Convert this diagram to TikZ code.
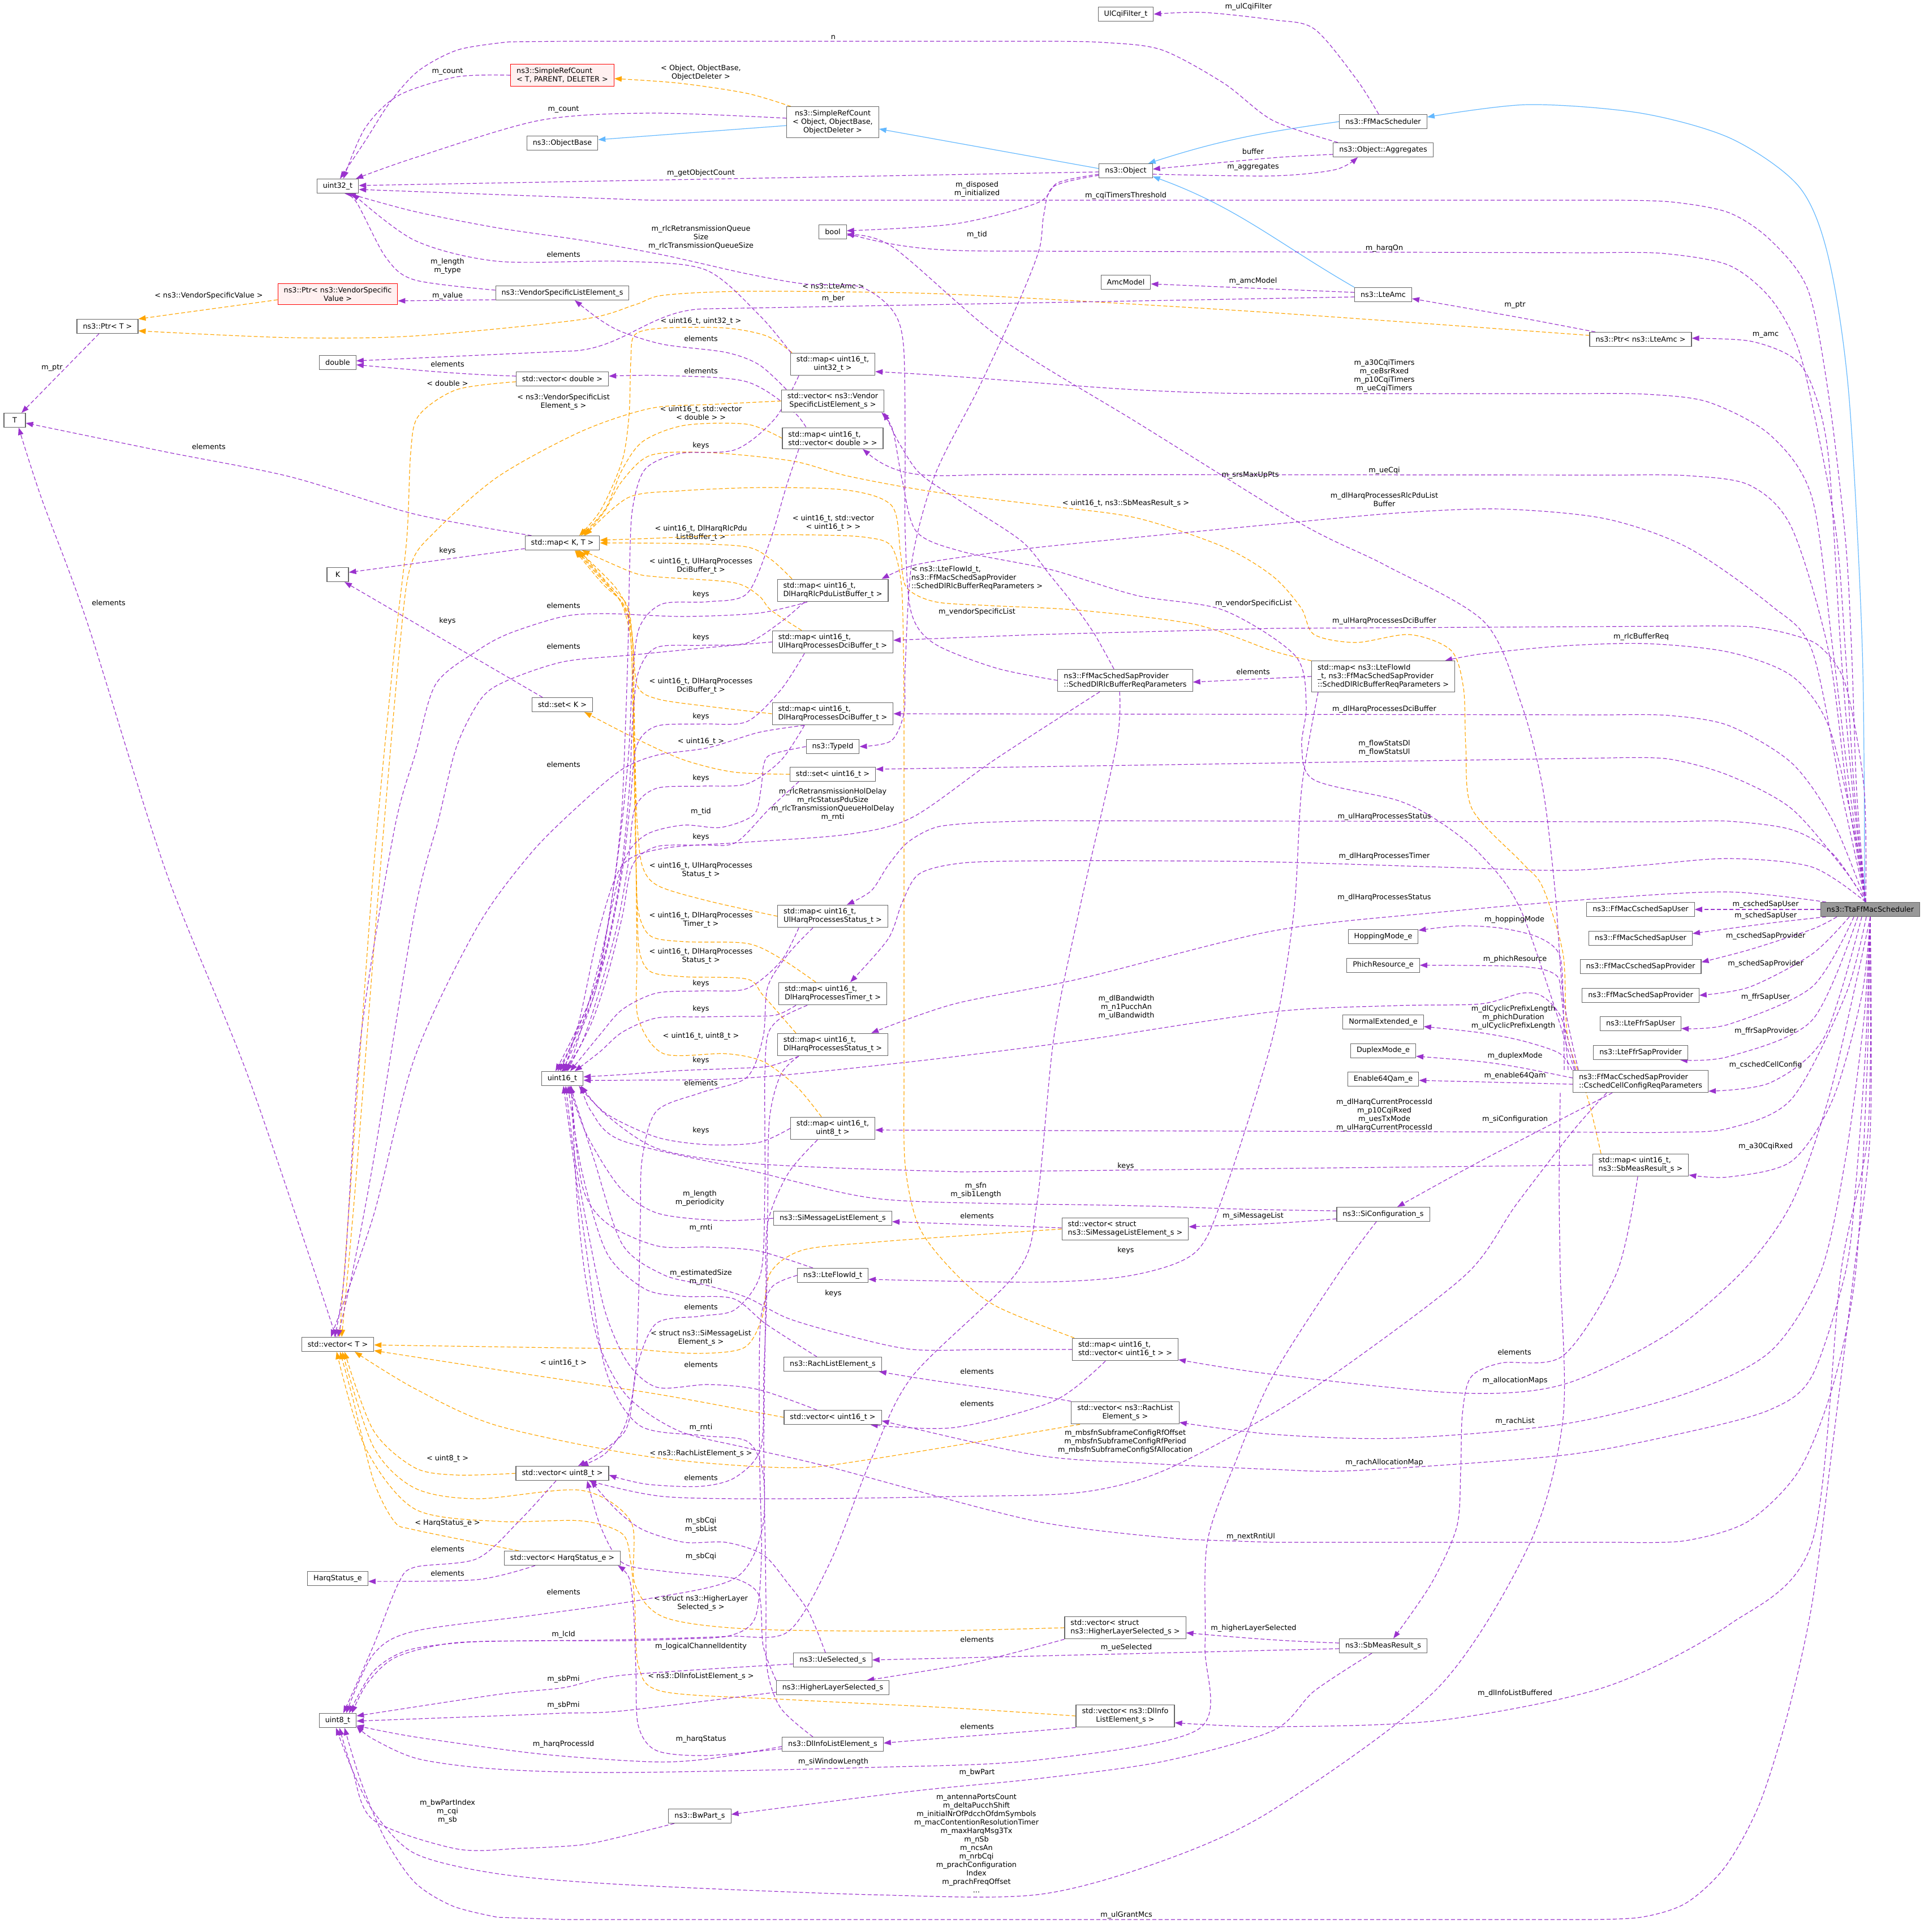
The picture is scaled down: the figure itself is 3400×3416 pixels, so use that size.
\documentclass[tikz,border=0pt]{standalone}
\usepackage{fontspec}
\setmainfont{DejaVu Sans}
\usepackage{tikz}
\usetikzlibrary{positioning, arrows.meta, backgrounds}

\definecolor{edgepurple}{HTML}{9A32CD}
\definecolor{edgeorange}{HTML}{FFA500}
\definecolor{edgeblue}{HTML}{63B8FF}
\definecolor{boxgray}{HTML}{666666}
\definecolor{mainfill}{HTML}{999999}
\definecolor{redfill}{HTML}{FFF0F0}

\newcommand{\dxfont}{\fontsize{12.8}{15}\selectfont}

\tikzset{
  cls/.style={draw=boxgray, fill=white, line width=1.1pt, font=\dxfont, align=center,
    inner xsep=10.5pt, inner ysep=6pt, minimum width=38pt, minimum height=25pt},
  clsl/.style={cls, align=left},
  maincls/.style={cls, fill=mainfill},
  redcls/.style={cls, draw=red, fill=redfill},
  mem/.style={draw=edgepurple, line width=1.2pt, dash pattern=on 7pt off 4pt,
    -{Triangle[length=13pt, width=9.5pt]}},
  tpl/.style={mem, draw=edgeorange},
  inh/.style={draw=edgeblue, line width=1.2pt, -{Triangle[length=13pt, width=9.5pt]}},
  lab/.style={font=\dxfont, align=center, inner sep=0pt, text=black}
}

\begin{document}
\begin{tikzpicture}[x=1pt, y=1pt]
\useasboundingbox (0,0) rectangle (3400,-3416);

% classes
\node[maincls] (n_tta) at (3306,-1608) {ns3::TtaFfMacScheduler};
\node[cls] (n_ffmac) at (2445,-215) {ns3::FfMacScheduler};
\node[cls] (n_ulcqi) at (1990,-25) {UlCqiFilter\_t};
\node[cls] (n_obj) at (1990,-302) {ns3::Object};
\node[cls] (n_aggr) at (2445,-265) {ns3::Object::Aggregates};
\node[cls] (n_srcobj) at (1472,-216) {ns3::SimpleRefCount\\< Object, ObjectBase,\\ObjectDeleter >};
\node[redcls, align=left] (n_srct) at (994,-133) {ns3::SimpleRefCount\\< T, PARENT, DELETER >};
\node[cls] (n_objbase) at (994,-253) {ns3::ObjectBase};
\node[cls] (n_u32) at (597,-329) {uint32\_t};
\node[cls] (n_bool) at (1472,-410) {bool};
\node[cls] (n_amcmodel) at (1990,-499) {AmcModel};
\node[cls] (n_lteamc) at (2445,-521) {ns3::LteAmc};
\node[cls] (n_ptramc) at (2900,-600) {ns3::Ptr< ns3::LteAmc >};
\node[redcls] (n_ptrvsv) at (597,-520) {ns3::Ptr< ns3::VendorSpecific\\Value >};
\node[cls] (n_vsle) at (994,-518) {ns3::VendorSpecificListElement\_s};
\node[cls] (n_ptrt) at (190,-577) {ns3::Ptr< T >};
\node[cls] (n_dbl) at (597,-641) {double};
\node[cls] (n_vecdbl) at (994,-670) {std::vector< double >};
\node[cls] (n_t) at (26,-743) {T};
\node[cls] (n_mapkt) at (994,-960) {std::map< K, T >};
\node[cls] (n_k) at (597,-1016) {K};
\node[cls] (n_setk) at (994,-1246) {std::set< K >};
\node[cls] (n_u16) at (994,-1907) {uint16\_t};
\node[cls] (n_vect) at (597,-2377) {std::vector< T >};
\node[cls] (n_vecu8) at (994,-2605) {std::vector< uint8\_t >};
\node[cls] (n_vechs) at (994,-2755) {std::vector< HarqStatus\_e >};
\node[cls] (n_hs) at (597,-2791) {HarqStatus\_e};
\node[cls] (n_u8) at (597,-3042) {uint8\_t};
\node[cls] (n_mapu32) at (1472,-644) {std::map< uint16\_t,\\uint32\_t >};
\node[cls] (n_vecvsle) at (1472,-709) {std::vector< ns3::Vendor\\SpecificListElement\_s >};
\node[clsl] (n_mapvecdbl) at (1472,-775) {std::map< uint16\_t,\\ std::vector< double > >};
\node[clsl] (n_maprlc) at (1472,-1044) {std::map< uint16\_t,\\ DlHarqRlcPduListBuffer\_t >};
\node[clsl] (n_mapuldci) at (1472,-1135) {std::map< uint16\_t,\\ UlHarqProcessesDciBuffer\_t >};
\node[clsl] (n_mapdldci) at (1472,-1262) {std::map< uint16\_t,\\ DlHarqProcessesDciBuffer\_t >};
\node[cls] (n_typeid) at (1472,-1320) {ns3::TypeId};
\node[cls] (n_setu16) at (1472,-1369) {std::set< uint16\_t >};
\node[clsl] (n_mapulst) at (1472,-1620) {std::map< uint16\_t,\\ UlHarqProcessesStatus\_t >};
\node[clsl] (n_mapdltm) at (1472,-1757) {std::map< uint16\_t,\\ DlHarqProcessesTimer\_t >};
\node[clsl] (n_mapdlst) at (1472,-1847) {std::map< uint16\_t,\\ DlHarqProcessesStatus\_t >};
\node[cls] (n_mapu8) at (1472,-1995) {std::map< uint16\_t,\\uint8\_t >};
\node[cls] (n_simle) at (1472,-2154) {ns3::SiMessageListElement\_s};
\node[cls] (n_flowid) at (1472,-2255) {ns3::LteFlowId\_t};
\node[cls] (n_rachle) at (1472,-2412) {ns3::RachListElement\_s};
\node[cls] (n_vecu16) at (1472,-2506) {std::vector< uint16\_t >};
\node[cls] (n_uesel) at (1472,-2935) {ns3::UeSelected\_s};
\node[cls] (n_hlsel) at (1472,-2984) {ns3::HigherLayerSelected\_s};
\node[cls] (n_dlinfo) at (1472,-3084) {ns3::DlInfoListElement\_s};
\node[cls] (n_bwpart) at (1237,-3211) {ns3::BwPart\_s};
\node[clsl] (n_rlcreq) at (1989,-1203) {ns3::FfMacSchedSapProvider\\::SchedDlRlcBufferReqParameters};
\node[clsl] (n_vecsimle) at (1989,-2173) {std::vector< struct\\ ns3::SiMessageListElement\_s >};
\node[clsl] (n_mapvecu16) at (1989,-2386) {std::map< uint16\_t,\\ std::vector< uint16\_t > >};
\node[cls] (n_vecrach) at (1989,-2498) {std::vector< ns3::RachList\\Element\_s >};
\node[clsl] (n_vechl) at (1989,-2878) {std::vector< struct\\ ns3::HigherLayerSelected\_s >};
\node[cls] (n_vecdlinfo) at (1989,-3034) {std::vector< ns3::DlInfo\\ListElement\_s >};
\node[clsl] (n_mapflow) at (2445,-1196) {std::map< ns3::LteFlowId\\\_t, ns3::FfMacSchedSapProvider\\::SchedDlRlcBufferReqParameters >};
\node[cls] (n_hop) at (2445,-1656) {HoppingMode\_e};
\node[cls, below=24.5pt of n_hop] (n_phich) {PhichResource\_e};
\node[cls] (n_normext) at (2445,-1807) {NormalExtended\_e};
\node[cls, below=24.5pt of n_normext] (n_duplex) {DuplexMode\_e};
\node[cls, below=24.5pt of n_duplex] (n_qam) {Enable64Qam\_e};
\node[cls] (n_siconf) at (2445,-2147) {ns3::SiConfiguration\_s};
\node[cls] (n_sbmeas) at (2445,-2910) {ns3::SbMeasResult\_s};
\node[cls] (n_cschuser) at (2900,-1608) {ns3::FfMacCschedSapUser};
\node[cls, below=24.5pt of n_cschuser] (n_schuser) {ns3::FfMacSchedSapUser};
\node[cls, below=24.5pt of n_schuser] (n_cschprov) {ns3::FfMacCschedSapProvider};
\node[cls, below=24.5pt of n_cschprov] (n_schprov) {ns3::FfMacSchedSapProvider};
\node[cls, below=24.5pt of n_schprov] (n_ffruser) {ns3::LteFfrSapUser};
\node[cls, below=24.5pt of n_ffruser] (n_ffrprov) {ns3::LteFfrSapProvider};
\node[clsl] (n_cellcfg) at (2900,-1912) {ns3::FfMacCschedSapProvider\\::CschedCellConfigReqParameters};
\node[clsl] (n_mapsb) at (2900,-2060) {std::map< uint16\_t,\\ ns3::SbMeasResult\_s >};

\begin{scope}[on background layer]
% inheritance
\draw[inh] plot[smooth] coordinates {([xshift=-10]n_tta.north) (3292,-1150) (3268,-696) (3232,-455) (3180,-330) (3060,-245) (2900,-200) (2700,-185) ([yshift=8]n_ffmac.east)};
\draw[inh] (n_ffmac.west) to[out=188,in=18] ([xshift=-8]n_obj.north east);
\draw[inh] (n_lteamc.north west) to[out=150,in=-20] ([yshift=3]n_obj.south east);
\draw[inh] ([yshift=4]n_obj.west) -- ([yshift=-12]n_srcobj.east);
\draw[inh] ([yshift=-6]n_srcobj.west) -- ([yshift=6]n_objbase.east);

% templates
\draw[tpl] plot[smooth] coordinates {([xshift=8]n_srcobj.north west) (1320,-165) (1200,-147) ([yshift=-6]n_srct.east)} node[lab, at={(1239,-128)}] {< Object, ObjectBase,\\ObjectDeleter >};
\draw[tpl] ([yshift=-10]n_ptrvsv.west) to[out=188,in=8] ([yshift=13]n_ptrt.east) node[lab, at={(369,-523)}] {< ns3::VendorSpecificValue >};
\draw[tpl] plot[smooth] coordinates {([yshift=7]n_ptramc.west) (2250,-553) (1833,-528) (1613,-518) (1320,-515) (1173,-522) (1122,-539) (1027,-565) (733,-594) (513,-597) ([yshift=-8]n_ptrt.east)} node[lab, at={(1473,-506)}] {< ns3::LteAmc >};
\draw[tpl] plot[smooth] coordinates {([yshift=-5]n_vecdbl.west) (807,-689) (740,-735) (726,-800) (719,-953) (697,-1150) (660,-1540) (623,-2053) ([xshift=3]n_vect.north)} node[lab, at={(791,-678)}] {< double >};
\draw[tpl] plot[smooth] coordinates {(n_vecvsle.west) (1260,-715) (1150,-722) (1027,-763) (880,-843) (770,-939) (726,-1000) (706,-1150) (667,-1600) (628,-2100) ([xshift=7]n_vect.north)} node[lab, at={(996,-711)}] {< ns3::VendorSpecificList\\Element\_s >};
\draw[tpl] plot[smooth] coordinates {(n_setu16.west) (1296,-1365) (1207,-1343) (1118,-1303) ([xshift=-15]n_setk.south east)} node[lab, at={(1239,-1311)}] {< uint16\_t >};
\draw[tpl] plot[smooth] coordinates {([xshift=-72]n_mapu32.north) (1355,-594) (1283,-580) (1173,-580) (1122,-592) (1115,-640) (1112,-733) (1100,-814) (1063,-900) ([xshift=30]n_mapkt.north)} node[lab, at={(1239,-568)}] {< uint16\_t, uint32\_t >};
\draw[tpl] plot[smooth] coordinates {(n_mapvecdbl.west) (1320,-750) (1210,-752) (1137,-780) (1100,-830) (1070,-900) ([xshift=33]n_mapkt.north)} node[lab, at={(1239,-730)}] {< uint16\_t, std::vector\\< double > >};
\draw[tpl] plot[smooth] coordinates {([xshift=-72]n_maprlc.north) (1364,-990) (1320,-967) (1210,-961) (n_mapkt.east)} node[lab, at={(1239,-943)}] {< uint16\_t, DlHarqRlcPdu\\ListBuffer\_t >};
\draw[tpl] plot[smooth] coordinates {([xshift=-55]n_mapuldci.north) (1363,-1079) (1341,-1053) (1296,-1030) (1163,-1020) (1118,-1012) ([xshift=35]n_mapkt.south)} node[lab, at={(1239,-1001)}] {< uint16\_t, UlHarqProcesses\\DciBuffer\_t >};
\draw[tpl] plot[smooth] coordinates {(n_mapdldci.west) (1252,-1249) (1163,-1236) (1127,-1213) (1118,-1129) (1109,-1071) (1073,-1030) ([xshift=30]n_mapkt.south)} node[lab, at={(1239,-1213)}] {< uint16\_t, DlHarqProcesses\\DciBuffer\_t >};
\draw[tpl] plot[smooth] coordinates {(n_mapulst.west) (1252,-1593) (1163,-1566) (1135,-1530) (1126,-1450) (1123,-1350) (1121,-1250) (1119,-1150) (1110,-1080) (1085,-1035) ([xshift=28]n_mapkt.south)} node[lab, at={(1239,-1539)}] {< uint16\_t, UlHarqProcesses\\Status\_t >};
\draw[tpl] plot[smooth] coordinates {([xshift=-30]n_mapdltm.north) (1379,-1694) (1320,-1668) (1210,-1665) (1150,-1655) (1128,-1610) (1124,-1520) (1122,-1420) (1120,-1320) (1118,-1220) (1115,-1130) (1100,-1070) (1075,-1035) ([xshift=26]n_mapkt.south)} node[lab, at={(1239,-1627)}] {< uint16\_t, DlHarqProcesses\\Timer\_t >};
\draw[tpl] plot[smooth] coordinates {([xshift=-65]n_mapdlst.north) (1349,-1760) (1320,-1731) (1210,-1727) (1150,-1718) (1130,-1680) (1126,-1590) (1124,-1490) (1122,-1390) (1120,-1290) (1118,-1190) (1112,-1100) (1095,-1060) (1068,-1030) ([xshift=24]n_mapkt.south)} node[lab, at={(1239,-1691)}] {< uint16\_t, DlHarqProcesses\\Status\_t >};
\draw[tpl] plot[smooth] coordinates {([xshift=-20]n_mapu8.north) (1408,-1921) (1349,-1877) (1283,-1863) (1173,-1863) (1128,-1800) (1126,-1700) (1125,-1600) (1124,-1500) (1123,-1400) (1121,-1300) (1120,-1200) (1117,-1120) (1102,-1068) (1065,-1032) ([xshift=22]n_mapkt.south)} node[lab, at={(1239,-1832)}] {< uint16\_t, uint8\_t >};
\draw[tpl] plot[smooth] coordinates {([xshift=-90]n_mapvecu16.north) (1760,-2309) (1687,-2250) (1625,-2170) (1600,-2060) (1598,-1900) (1598,-1750) (1598,-1600) (1598,-1450) (1598,-1300) (1597,-1150) (1593,-1030) (1575,-965) (1530,-950) (1450,-946) (1300,-946) (1150,-952) ([yshift=5]n_mapkt.east)} node[lab, at={(1473,-925)}] {< uint16\_t, std::vector\\< uint16\_t > >};
\draw[tpl] plot[smooth] coordinates {([xshift=-70]n_mapsb.north) (2807,-1943) (2771,-1833) (2763,-1687) (2727,-1569) (2690,-1525) (2602,-1430) (2591,-1320) (2587,-1217) (2565,-1150) (2492,-1122) (2397,-1136) (2323,-1122) (2300,-1075) (2250,-1019) (2163,-967) (2010,-916) (1857,-895) (1653,-870) (1500,-842) (1400,-815) (1250,-800) (1150,-805) (1100,-850) (1068,-905) ([xshift=38]n_mapkt.north)} node[lab, at={(1990,-890)}] {< uint16\_t, ns3::SbMeasResult\_s >};
\draw[tpl] plot[smooth] coordinates {(n_mapflow.north west) (2250,-1151) (2112,-1104) (1908,-1079) (1755,-1071) (1653,-1064) (1602,-1038) (1592,-980) (1577,-895) (1500,-867) (1350,-862) (1200,-868) (1110,-880) ([xshift=40]n_mapkt.north)} node[lab, align=left, at={(1727,-1022)}] {< ns3::LteFlowId\_t,\\ns3::FfMacSchedSapProvider\\::SchedDlRlcBufferReqParameters >};
\draw[tpl] plot[smooth] coordinates {(n_vecu16.west) (1300,-2490) (1150,-2463) (900,-2425) ([yshift=-11]n_vect.east)} node[lab, at={(996,-2410)}] {< uint16\_t >};
\draw[tpl] plot[smooth] coordinates {(n_vecsimle.west) (1700,-2185) (1550,-2196) (1420,-2210) (1362,-2250) (1347,-2330) (1315,-2383) (1230,-2393) (1120,-2385)} -- ([yshift=-1]n_vect.east) node[lab, at={(1239,-2366)}] {< struct ns3::SiMessageList\\Element\_s >};
\draw[tpl] plot[smooth] coordinates {(n_vecu8.west) (807,-2608) (733,-2595) (660,-2529) ([xshift=12]n_vect.south)} node[lab, at={(791,-2579)}] {< uint8\_t >};
\draw[tpl] plot[smooth] coordinates {([xshift=-77]n_vechs.north) (733,-2705) (697,-2690) (660,-2617) (623,-2470) ([xshift=4]n_vect.south)} node[lab, at={(791,-2693)}] {< HarqStatus\_e >};
\draw[tpl] plot[smooth] coordinates {([xshift=-80]n_vecrach.south) (1540,-2580) (1393,-2595) (1150,-2576) (880,-2521) (733,-2455) ([xshift=30]n_vect.south)} node[lab, at={(1239,-2570)}] {< ns3::RachListElement\_s >};
\draw[tpl] plot[smooth] coordinates {(n_vechl.west) (1613,-2884) (1320,-2880) (1173,-2859) (1122,-2800) (1115,-2690) (1027,-2635) (843,-2650) (733,-2631) (660,-2558) ([xshift=8]n_vect.south)} node[lab, at={(1239,-2835)}] {< struct ns3::HigherLayer\\Selected\_s >};
\draw[tpl] plot[smooth] coordinates {(n_vecdlinfo.west) (1687,-3020) (1393,-3005) (1173,-2991) (1129,-2947) (1122,-2837) (1115,-2763) (1100,-2712) (1027,-2689) (880,-2690) (733,-2668) (645,-2558) ([xshift=-2]n_vect.south)} node[lab, at={(1239,-2964)}] {< ns3::DlInfoListElement\_s >};

% members of ns3::TtaFfMacScheduler
\draw[mem] plot[smooth] coordinates {([xshift=-8]n_tta.north) (3282,-1400) (3273,-1150) (3262,-953) (3232,-696) (3196,-513) (3130,-425) (3056,-376) (2954,-357) (2850,-354)} -- (1150,-354) -- ([yshift=-6]n_u32.east) node[lab, at={(1990,-346)}] {m\_cqiTimersThreshold};
\draw[mem] plot[smooth] coordinates {([xshift=-8]n_tta.north) (3278,-1400) (3262,-1150) (3247,-953) (3218,-787) (3180,-620) (3130,-528) (3056,-469) (2939,-448) (2820,-447)} -- (1806,-444) to[out=180,in=-15] ([yshift=-3]n_bool.east) node[lab, at={(2447,-439)}] {m\_harqOn};
\draw[mem] plot[smooth] coordinates {([xshift=-8]n_tta.north) (3275,-1400) (3254,-1150) (3232,-807) (3203,-682) (3167,-631) (3093,-603) ([yshift=2]n_ptramc.east)} node[lab, at={(3121,-592)}] {m\_amc};
\draw[mem] plot[smooth] coordinates {([xshift=-8]n_tta.north) (3270,-1400) (3240,-1150) (3203,-880) (3130,-770) (3020,-711) (2910,-697) (2800,-696)} -- (2250,-696) to[out=180,in=-3] ([yshift=-13]n_mapu32.east) node[lab, at={(2447,-665)}] {m\_a30CqiTimers\\m\_ceBsrRxed\\m\_p10CqiTimers\\m\_ueCqiTimers};
\draw[mem] plot[smooth] coordinates {([xshift=-8]n_tta.north) (3265,-1400) (3232,-1150) (3167,-933) (3093,-858) (2983,-841) (2870,-840)} -- (1760,-839) to[out=180,in=-40] ([xshift=53]n_mapvecdbl.south) node[lab, at={(2447,-832)}] {m\_ueCqi};
\draw[mem] plot[smooth] coordinates {([xshift=-8]n_tta.north) (3255,-1400) (3203,-1150) (3130,-1070) (2983,-968) (2837,-917) (2653,-900) (2470,-907) (2250,-927) (2040,-947) (1833,-968) (1700,-985) (1613,-1000) ([xshift=-12]n_maprlc.north east)} node[lab, at={(2447,-883)}] {m\_dlHarqProcessesRlcPduList\\Buffer};
\draw[mem] plot[smooth] coordinates {([xshift=-8]n_tta.north) (3295,-1393) (3262,-1210) (3218,-1144) (3167,-1122) (3093,-1108) (2990,-1107)} -- (2250,-1111) -- (1833,-1122) -- ([yshift=3]n_mapuldci.east) node[lab, at={(2447,-1098)}] {m\_ulHarqProcessesDciBuffer};
\draw[mem] plot[smooth] coordinates {([xshift=-8]n_tta.north) (3277,-1467) (3232,-1283) (3167,-1195) (3056,-1153) (2910,-1138) (2763,-1142) (2620,-1156) ([xshift=-18]n_mapflow.north east)} node[lab, at={(2901,-1126)}] {m\_rlcBufferReq};
\draw[mem] plot[smooth] coordinates {([xshift=-8]n_tta.north) (3240,-1452) (3167,-1349) (3056,-1283) (2950,-1265) (2850,-1264)} -- (n_mapdldci.east) node[lab, at={(2447,-1254)}] {m\_dlHarqProcessesDciBuffer};
\draw[mem] plot[smooth] coordinates {([xshift=-8]n_tta.north) (3262,-1540) (3167,-1430) (3056,-1371) (2950,-1342) (2850,-1340)} -- ([yshift=9]n_setu16.east) node[lab, at={(2447,-1323)}] {m\_flowStatsDl\\m\_flowStatsUl};
\draw[mem] plot[smooth] coordinates {([xshift=-8]n_tta.north) (3240,-1510) (3167,-1467) (3056,-1452) (2950,-1453) (2850,-1453)} -- (1833,-1451) -- plot[smooth] coordinates {(1740,-1454) (1657,-1462) (1605,-1489) (1570,-1530) (1540,-1575) ([xshift=25]n_mapulst.north)} node[lab, at={(2447,-1444)}] {m\_ulHarqProcessesStatus};
\draw[mem] plot[smooth] coordinates {([xshift=-8]n_tta.north) (3203,-1533) (3056,-1518) (2900,-1530) (2763,-1539) (2543,-1533) (2250,-1524) (2040,-1522) (1833,-1522) (1700,-1526) (1625,-1545) (1595,-1595) (1570,-1660) ([xshift=31]n_mapdltm.north)} node[lab, at={(2447,-1514)}] {m\_dlHarqProcessesTimer};
\draw[mem] plot[smooth] coordinates {([xshift=10]n_tta.north west) (3056,-1577) (2837,-1588) (2543,-1613) (2250,-1646) (1907,-1731) (1687,-1775) ([xshift=-30]n_mapdlst.north east)} node[lab, at={(2447,-1587)}] {m\_dlHarqProcessesStatus};
\draw[mem] (n_tta.west) -- (n_cschuser.east) node[lab, at={(3121,-1599)}] {m\_cschedSapUser};
\draw[mem] plot[smooth] coordinates {([xshift=10]n_tta.south west) (3130,-1632) ([yshift=8]n_schuser.east)} node[lab, at={(3121,-1619)}] {m\_schedSapUser};
\draw[mem] plot[smooth] coordinates {([xshift=-59]n_tta.south) (3203,-1643) (3093,-1679) ([yshift=8]n_cschprov.east)} node[lab, at={(3121,-1655)}] {m\_cschedSapProvider};
\draw[mem] plot[smooth] coordinates {([xshift=-37]n_tta.south) (3203,-1687) (3093,-1745) (n_schprov.east)} node[lab, at={(3121,-1704)}] {m\_schedSapProvider};
\draw[mem] plot[smooth] coordinates {([xshift=-29]n_tta.south) (3203,-1745) (3056,-1811) ([yshift=-8]n_ffruser.east)} node[lab, at={(3121,-1763)}] {m\_ffrSapUser};
\draw[mem] plot[smooth] coordinates {([xshift=-22]n_tta.south) (3203,-1804) (3056,-1868) ([xshift=-14]n_ffrprov.south east)} node[lab, at={(3121,-1823)}] {m\_ffrSapProvider};
\draw[mem] plot[smooth] coordinates {([xshift=-15]n_tta.south) (3225,-1833) (3130,-1914) ([yshift=3]n_cellcfg.south east)} node[lab, at={(3121,-1883)}] {m\_cschedCellConfig};
\draw[mem] plot[smooth] coordinates {([xshift=-7]n_tta.south) (3262,-1760) (3167,-1943) (3056,-1995) (2950,-2002) (2850,-2002)} -- ([yshift=-3]n_mapu8.east) node[lab, at={(2447,-1972)}] {m\_dlHarqCurrentProcessId\\m\_p10CqiRxed\\m\_uesTxMode\\m\_ulHarqCurrentProcessId};
\draw[mem] plot[smooth] coordinates {(n_tta.south) (3291,-1760) (3240,-1943) (3167,-2053) (3056,-2081) ([yshift=3]n_mapsb.south east)} node[lab, at={(3121,-2027)}] {m\_a30CqiRxed};
\draw[mem] plot[smooth] coordinates {(n_tta.south) (3284,-1723) (3232,-1943) (3167,-2127) (3078,-2250) (2946,-2360) (2763,-2448) (2580,-2463) (2250,-2430) ([yshift=-18]n_mapvecu16.east)} node[lab, at={(2678,-2441)}] {m\_allocationMaps};
\draw[mem] plot[smooth] coordinates {(n_tta.south) (3295,-1800) (3262,-2050) (3218,-2250) (3130,-2389) (2983,-2463) (2763,-2518) (2470,-2543) (2250,-2536) ([yshift=-17]n_vecrach.east)} node[lab, at={(2678,-2513)}] {m\_rachList};
\draw[mem] plot[smooth] coordinates {(n_tta.south) (3298,-1850) (3280,-2100) (3262,-2250) (3203,-2433) (3130,-2492) (2983,-2532) (2763,-2573) (2397,-2600) (2250,-2598) (2040,-2588) (1833,-2573) ([yshift=-6]n_vecu16.east)} node[lab, at={(2447,-2586)}] {m\_rachAllocationMap};
\draw[mem] plot[smooth] coordinates {(n_tta.south) (3300,-1900) (3280,-2250) (3240,-2450) (3180,-2600) (3090,-2690) (2980,-2724) (2870,-2727)} -- (2250,-2727) -- plot[smooth] coordinates {(2100,-2722) (1833,-2690) (1467,-2594) (1320,-2560) (1200,-2530) (1110,-2470) (1060,-2380) (1035,-2260) (1020,-2120) ([xshift=16]n_u16.south)} node[lab, at={(2211,-2717)}] {m\_nextRntiUl};
\draw[mem] plot[smooth] coordinates {(n_tta.south) (3302,-2000) (3254,-2250) (3203,-2727) (3056,-2873) (2837,-2983) (2543,-3042) (2250,-3053) ([yshift=-12]n_vecdlinfo.east)} node[lab, at={(2678,-2994)}] {m\_dlInfoListBuffered};
\draw[mem] plot[smooth] coordinates {(n_tta.south) (3306,-2000) (3277,-2250) (3240,-2550) (3203,-2836) (3160,-3030) (3110,-3190) (3050,-3300) (2980,-3365) (2900,-3390) (2800,-3394)} -- (1000,-3394) -- plot[smooth] coordinates {(880,-3390) (800,-3370) (733,-3328) (680,-3250) (638,-3150) ([xshift=12]n_u8.south)} node[lab, at={(1991,-3386)}] {m\_ulGrantMcs};

% other members
\draw[mem] plot[smooth] coordinates {([xshift=-8]n_ffmac.north) (2397,-139) (2323,-51) (2250,-35) (2127,-22) (n_ulcqi.east)} node[lab, at={(2207,-12)}] {m\_ulCqiFilter};
\draw[mem] plot[smooth] coordinates {([yshift=-8]n_aggr.west) (2250,-279) ([yshift=3]n_obj.east)} node[lab, at={(2215,-268)}] {buffer};
\draw[mem] plot[smooth] coordinates {([yshift=-6]n_obj.east) (2250,-311) (2360,-300) ([xshift=-45]n_aggr.south)} node[lab, at={(2215,-296)}] {m\_aggregates};
\draw[mem] plot[smooth] coordinates {([yshift=-6]n_obj.west) (1870,-323) (1833,-359) (1687,-396) ([yshift=2]n_bool.east)} node[lab, at={(1727,-335)}] {m\_disposed\\m\_initialized};
\draw[mem] plot[smooth] coordinates {([yshift=-8]n_obj.west) (1862,-330) (1845,-380) (1837,-441) (1801,-533) (1730,-686) (1653,-839) (1612,-992) (1600,-1180) (1598,-1260) (1575,-1310) (n_typeid.east)} node[lab, at={(1727,-415)}] {m\_tid};
\draw[mem] ([yshift=4]n_lteamc.west) -- ([yshift=-3]n_amcmodel.east) node[lab, at={(2215,-497)}] {m\_amcModel};
\draw[mem] ([yshift=-4]n_lteamc.west) -- (1250,-546) to[out=180,in=0] (1000,-621) -- ([yshift=3]n_dbl.east) node[lab, at={(1473,-528)}] {m\_ber};
\draw[mem] plot[smooth] coordinates {([xshift=-80]n_ptramc.north) (2678,-560) ([yshift=-7]n_lteamc.east)} node[lab, at={(2678,-540)}] {m\_ptr};
\draw[mem] plot[smooth] coordinates {([yshift=5]n_vsle.west) (733,-495) (682,-455) (631,-359) ([xshift=12]n_u32.south)} node[lab, at={(791,-471)}] {m\_length\\m\_type};
\draw[mem] plot[smooth] coordinates {([xshift=-74]n_mapu32.north) (1342,-557) (1247,-477) (1100,-462) (880,-462) (733,-425) ([xshift=26]n_u32.south)} node[lab, at={(996,-450)}] {elements};
\draw[mem] plot[smooth] coordinates {(n_srct.west) (807,-136) (704,-169) (645,-227) ([xshift=10]n_u32.north)} node[lab, at={(791,-127)}] {m\_count};
\draw[mem] plot[smooth] coordinates {([yshift=7]n_srcobj.west) (1150,-200) (953,-213) (733,-279) ([xshift=32]n_u32.north)} node[lab, at={(996,-194)}] {m\_count};
\draw[mem] plot[smooth] coordinates {([xshift=-80]n_aggr.north) (2250,-213) (2163,-147) (2053,-88) (1950,-75) (1850,-73)} -- (1000,-73) -- plot[smooth] coordinates {(900,-74) (810,-88) (740,-125) (690,-180) (645,-250) ([xshift=4]n_u32.north)} node[lab, at={(1473,-66)}] {n};
\draw[mem] ([yshift=-2]n_obj.west) -- ([yshift=1]n_u32.east) node[lab, at={(1239,-306)}] {m\_getObjectCount};
\draw[mem] ([yshift=-12]n_vsle.west) -- ([yshift=-12]n_ptrvsv.east) node[lab, at={(791,-523)}] {m\_value};
\draw[mem] ([xshift=-15]n_ptrt.south) -- ([xshift=12]n_t.north) node[lab, at={(92,-651)}] {m\_ptr};
\draw[mem] plot[smooth] coordinates {([xshift=12]n_mapkt.north west) (733,-909) (513,-843) (293,-799) ([yshift=-5]n_t.east)} node[lab, at={(369,-790)}] {elements};
\draw[mem] plot[smooth] coordinates {([xshift=-3]n_vect.north) (440,-1907) (293,-1540) (154,-1100) (73,-880) ([xshift=7]n_t.south)} node[lab, at={(192,-1066)}] {elements};
\draw[mem] ([yshift=-10]n_mapkt.west) -- ([yshift=4]n_k.east) node[lab, at={(791,-974)}] {keys};
\draw[mem] ([xshift=-35]n_setk.north) -- ([xshift=12]n_k.south) node[lab, at={(791,-1098)}] {keys};
\draw[mem] ([yshift=5]n_vecdbl.west) to[out=178,in=-5] ([yshift=-4]n_dbl.east) node[lab, at={(791,-644)}] {elements};
\draw[mem] plot[smooth] coordinates {([xshift=-27]n_mapvecdbl.south) (1408,-733) (1320,-675) (1173,-664) ([yshift=5]n_vecdbl.east)} node[lab, at={(1239,-656)}] {elements};
\draw[mem] plot[smooth] coordinates {([xshift=-82]n_vecvsle.north) (1342,-645) (1283,-623) (1173,-609) (1100,-587) (1060,-565) ([xshift=22]n_vsle.south)} node[lab, at={(1239,-599)}] {elements};
\draw[mem] plot[smooth] coordinates {([xshift=-45]n_maprlc.south) (1341,-1084) (1207,-1090) (1073,-1085) (996,-1090) (900,-1120) (843,-1151) (770,-1210) (735,-1330) (697,-1467) (638,-1833) (609,-2250) ([xshift=-6]n_vect.north)} node[lab, at={(996,-1071)}] {elements};
\draw[mem] plot[smooth] coordinates {(n_mapuldci.west) (1252,-1145) (1118,-1158) (996,-1170) (895,-1204) (850,-1236) (807,-1320) (775,-1450) (733,-1613) (660,-2053) (623,-2250) (n_vect.north)} node[lab, at={(996,-1143)}] {elements};
\draw[mem] plot[smooth] coordinates {([xshift=-50]n_mapdldci.south) (1341,-1295) (1252,-1322) (1162,-1335) (1100,-1360) (1029,-1419) (939,-1508) (843,-1640) (733,-1870) (660,-2150) ([xshift=-12]n_vect.north)} node[lab, at={(996,-1352)}] {elements};

% struct members
\draw[mem] plot[smooth] coordinates {(n_rlcreq.west) (1760,-1181) (1650,-1137) (1610,-1080) (1600,-941) (1600,-788) (1597,-610) (1577,-548) (1520,-507) (1422,-502) (1320,-484) (1173,-451) (1030,-425) (880,-403) (733,-374) ([xshift=19]n_u32.south)} node[lab, at={(1239,-420)}] {m\_rlcRetransmissionQueue\\Size\\m\_rlcTransmissionQueueSize};
\draw[mem] plot[smooth] coordinates {([xshift=-20]n_rlcreq.north) (1934,-1120) (1898,-1069) (1857,-1018) (1806,-957) (1704,-890) (1628,-839) (1592,-788) (1570,-745) (n_vecvsle.south east)} node[lab, at={(1727,-1082)}] {m\_vendorSpecificList};
\draw[mem] plot[smooth] coordinates {([xshift=-45]n_rlcreq.south) (1760,-1342) (1613,-1445) (1500,-1475) (1320,-1489) (1173,-1500) (1100,-1530) (1060,-1640) (1025,-1800) ([xshift=2]n_u16.north)} node[lab, at={(1472,-1423)}] {m\_rlcRetransmissionHolDelay\\m\_rlcStatusPduSize\\m\_rlcTransmissionQueueHolDelay\\m\_rnti};
\draw[mem] plot[smooth] coordinates {([xshift=-10]n_rlcreq.south) (1973,-1320) (1907,-1613) (1863,-1833) (1833,-2127) (1797,-2250) (1613,-2433) (1540,-2580) (1467,-2763) (1393,-2885) (1290,-2893) (1180,-2897) (1060,-2900) (940,-2901) (820,-2904) (720,-2918) (660,-2955) ([xshift=20]n_u8.north)} node[lab, at={(1239,-2911)}] {m\_logicalChannelIdentity};
\draw[mem] plot[smooth] coordinates {(n_typeid.west) (1363,-1334) (1350,-1352) (1345,-1396) (1332,-1441) (1274,-1463) (1207,-1459) (1140,-1477) (1100,-1530) (1060,-1700) (1015,-1860) ([xshift=-2]n_u16.north)} node[lab, at={(1239,-1435)}] {m\_tid};

% keys into uint16_t
\draw[mem] plot[smooth] coordinates {([xshift=-60]n_mapu32.south) (1370,-740) (1300,-795) (1200,-802) (1140,-830) (1118,-900) (1113,-1000) (1110,-1150) (1105,-1300) (1098,-1450) (1080,-1600) (1050,-1750) ([xshift=-12]n_u16.north)} node[lab, at={(1239,-788)}] {keys};
\draw[mem] plot[smooth] coordinates {([xshift=-60]n_mapvecdbl.south) (1390,-860) (1360,-960) (1320,-1050) (1250,-1064) (1170,-1068) (1130,-1110) (1118,-1200) (1112,-1320) (1100,-1450) (1080,-1600) (1050,-1760) ([xshift=-8]n_u16.north)} node[lab, at={(1239,-1051)}] {keys};
\draw[mem] plot[smooth] coordinates {([xshift=-50]n_maprlc.south) (1380,-1100) (1320,-1137) (1240,-1141) (1160,-1145) (1128,-1190) (1118,-1280) (1112,-1400) (1095,-1560) (1060,-1720) ([xshift=-4]n_u16.north)} node[lab, at={(1239,-1127)}] {keys};
\draw[mem] plot[smooth] coordinates {([xshift=-50]n_mapuldci.south) (1380,-1220) (1320,-1276) (1240,-1280) (1160,-1284) (1125,-1320) (1114,-1420) (1100,-1540) (1075,-1670) (1040,-1790) (n_u16.north)} node[lab, at={(1239,-1267)}] {keys};
\draw[mem] plot[smooth] coordinates {([xshift=-50]n_mapdldci.south) (1380,-1345) (1320,-1386) (1240,-1390) (1160,-1394) (1122,-1430) (1110,-1530) (1090,-1640) (1060,-1750) (1030,-1840) ([xshift=4]n_u16.north)} node[lab, at={(1239,-1376)}] {keys};
\draw[mem] plot[smooth] coordinates {([xshift=-60]n_setu16.south) (1360,-1430) (1300,-1490) (1240,-1494) (1160,-1497) (1118,-1530) (1100,-1620) (1075,-1720) (1045,-1810) ([xshift=8]n_u16.north)} node[lab, at={(1239,-1480)}] {keys};
\draw[mem] plot[smooth] coordinates {([xshift=-60]n_mapulst.south) (1380,-1700) (1320,-1748) (1240,-1752) (1160,-1756) (1100,-1785) (1060,-1830) ([xshift=14]n_u16.north)} node[lab, at={(1239,-1739)}] {keys};
\draw[mem] plot[smooth] coordinates {([xshift=-65]n_mapdltm.south) (1370,-1795) (1300,-1797) (1240,-1798) (1160,-1800) (1100,-1825) (1060,-1860) ([xshift=22]n_u16.north)} node[lab, at={(1239,-1784)}] {keys};
\draw[mem] plot[smooth] coordinates {([xshift=-60]n_mapdlst.south) (1360,-1885) (1300,-1889) (1200,-1893) (1100,-1900) ([yshift=3]n_u16.east)} node[lab, at={(1239,-1875)}] {keys};
\draw[mem] plot[smooth] coordinates {(n_mapu8.west) (1341,-2020) (1252,-2024) (1162,-2011) (1073,-1970) ([xshift=-8]n_u16.south east)} node[lab, at={(1239,-1999)}] {keys};
\draw[mem] (n_mapsb.west) -- (1700,-2072) -- plot[smooth] coordinates {(1500,-2066) (1300,-2055) (1160,-2030) (1070,-1970) ([xshift=-4]n_u16.south east)} node[lab, at={(1990,-2062)}] {keys};
\draw[mem] plot[smooth] coordinates {(n_mapvecu16.west) (1750,-2386) (1613,-2386) (1500,-2362) (1393,-2331) (1320,-2294) (1247,-2272) (1173,-2254) (1100,-2200) (1050,-2050) ([xshift=14]n_u16.south)} node[lab, at={(1473,-2287)}] {keys};
\draw[mem] plot[smooth] coordinates {([xshift=-115]n_mapflow.south) (2301,-1393) (2287,-1613) (2250,-1833) (2163,-2112) (2112,-2215) (2000,-2255) (1833,-2267) ([yshift=-7]n_flowid.east)} node[lab, at={(1990,-2211)}] {keys};
\draw[mem] (n_mapflow.west) -- ([yshift=-3]n_rlcreq.east) node[lab, at={(2215,-1188)}] {elements};

\draw[mem] plot[smooth] coordinates {([xshift=-35]n_flowid.north) (1341,-2212) (1252,-2205) (1162,-2203) (1073,-2163) (1029,-2096) ([xshift=15]n_u16.south)} node[lab, at={(1239,-2171)}] {m\_rnti};
\draw[mem] plot[smooth] coordinates {(n_simle.west) (1274,-2158) (1162,-2145) (1096,-2100) (1037,-2006) ([xshift=12]n_u16.south)} node[lab, at={(1237,-2119)}] {m\_length\\m\_periodicity};
\draw[mem] plot[smooth] coordinates {([xshift=-28]n_rachle.north) (1354,-2341) (1296,-2296) (1207,-2292) (1140,-2279) (1073,-2216) (1029,-2073) ([xshift=10]n_u16.south)} node[lab, at={(1239,-2259)}] {m\_estimatedSize\\m\_rnti};
\draw[mem] plot[smooth] coordinates {([xshift=-28]n_vecu16.north) (1341,-2457) (1252,-2448) (1162,-2453) (1110,-2410) (1070,-2320) (1040,-2180) (1015,-2040) ([xshift=6]n_u16.south)} node[lab, at={(1239,-2413)}] {elements};
\draw[mem] plot[smooth] coordinates {([xshift=-35]n_dlinfo.north) (1380,-3020) (1356,-2950) (1354,-2830) (1352,-2700) (1348,-2600) (1320,-2548) (1239,-2538) (1130,-2520) (1070,-2420) (1035,-2200) ([xshift=2]n_u16.south)} node[lab, at={(1239,-2524)}] {m\_rnti};
\draw[mem] plot[smooth] coordinates {(n_flowid.west) (1365,-2275) (1345,-2330) (1342,-2450) (1343,-2600) (1346,-2750) (1335,-2860) (1290,-2892) (1200,-2898) (1100,-2901) (950,-2901) (800,-2905) (700,-2930) (650,-2975) ([xshift=25]n_u8.north)} node[lab, at={(996,-2890)}] {m\_lcId};

% vectors of uint8_t and friends
\draw[mem] plot[smooth] coordinates {([xshift=-13]n_uesel.north) (1430,-2851) (1393,-2800) (1349,-2749) (1283,-2727) (1210,-2727) (1137,-2705) (1090,-2670) ([xshift=50]n_vecu8.south)} node[lab, at={(1239,-2697)}] {m\_sbCqi\\m\_sbList};
\draw[mem] plot[smooth] coordinates {(n_hlsel.north west) (1349,-2910) (1342,-2822) (1305,-2793) (1247,-2785) (1173,-2778) (1100,-2763) (1062,-2700) ([xshift=44]n_vecu8.south)} node[lab, at={(1239,-2752)}] {m\_sbCqi};
\draw[mem] plot[smooth] coordinates {([xshift=-35]n_mapulst.south) (1393,-1687) (1357,-1745) (1349,-1833) (1320,-1905) (1239,-1932) (1160,-1965) (1135,-2050) (1132,-2150) (1130,-2250) (1127,-2350) (1122,-2440) (1105,-2520) (1070,-2570) ([xshift=33]n_vecu8.north)} node[lab, at={(1239,-1915)}] {elements};
\draw[mem] plot[smooth] coordinates {([xshift=-45]n_mapdltm.south) (1380,-1800) (1357,-1830) (1352,-1900) (1352,-2000) (1352,-2100) (1345,-2250) (1300,-2315) (1239,-2327) (1160,-2340) (1125,-2420) (1105,-2530) ([xshift=28]n_vecu8.north)} node[lab, at={(1239,-2311)}] {elements};
\draw[mem] plot[smooth] coordinates {([xshift=-60]n_mapdlst.south) (1380,-1900) (1360,-1980) (1357,-2140) (1355,-2300) (1350,-2430) (1345,-2560) (1300,-2612) (1239,-2628) (1150,-2625) (1100,-2615) ([yshift=-3]n_vecu8.east)} node[lab, at={(1239,-2613)}] {elements};
\draw[mem] plot[smooth] coordinates {([xshift=-27]n_mapu8.south) (1393,-2075) (1357,-2163) (1354,-2280) (1352,-2400) (1350,-2550) (1348,-2700) (1300,-2790) (1150,-2826) (950,-2855) (733,-2884) (660,-2925) ([xshift=15]n_u8.north)} node[lab, at={(996,-2815)}] {elements};
\draw[mem] plot[smooth] coordinates {([xshift=-11]n_vecu8.south) (917,-2690) (843,-2756) (733,-2771) (704,-2800) (660,-2910) ([xshift=10]n_u8.north)} node[lab, at={(791,-2739)}] {elements};
\draw[mem] plot[smooth] coordinates {([xshift=-48]n_vechs.south) (843,-2793) ([yshift=-5]n_hs.east)} node[lab, at={(791,-2782)}] {elements};
\draw[mem] plot[smooth] coordinates {([yshift=-8]n_dlinfo.west) (1247,-3104) (1160,-3095) (1128,-3050) (1124,-2950) (1120,-2850) (1112,-2790) ([xshift=-5]n_vechs.south east)} node[lab, at={(1239,-3075)}] {m\_harqStatus};
\draw[mem] plot[smooth] coordinates {([yshift=-4]n_dlinfo.west) (1250,-3110) (1150,-3115) (953,-3101) (733,-3071) ([yshift=-9]n_u8.east)} node[lab, at={(996,-3084)}] {m\_harqProcessId};
\draw[mem] plot[smooth] coordinates {([yshift=-8]n_hlsel.west) (1100,-3025) (996,-3029) (900,-3033) ([yshift=-1]n_u8.east)} node[lab, at={(996,-3015)}] {m\_sbPmi};
\draw[mem] plot[smooth] coordinates {([yshift=-7]n_uesel.west) (1100,-2962) (996,-2984) (880,-2996) ([yshift=8]n_u8.east)} node[lab, at={(996,-2969)}] {m\_sbPmi};
\draw[mem] plot[smooth] coordinates {([xshift=-45]n_bwpart.south) (1100,-3247) (1027,-3262) (920,-3268) (807,-3269) (660,-3218) (623,-3130) ([xshift=3]n_u8.south)} node[lab, at={(791,-3203)}] {m\_bwPartIndex\\m\_cqi\\m\_sb};

% ns3::SiConfiguration_s and ns3::SbMeasResult_s
\draw[mem] plot[smooth] coordinates {([xshift=-12]n_siconf.south) (2367,-2250) (2250,-2433) (2186,-2580) (2134,-2727) (2130,-2910) (2119,-3057) (1833,-3112) (1540,-3125) (1100,-3134) (880,-3128) (740,-3110) (660,-3075) ([yshift=-10]n_u8.east)} node[lab, at={(1473,-3115)}] {m\_siWindowLength};
\draw[mem] plot[smooth] coordinates {([yshift=6]n_siconf.west) (2200,-2138) (2050,-2133) (1907,-2130) (1760,-2128) (1540,-2118) (1320,-2068) (1100,-2017) (1045,-1965) ([xshift=-4]n_u16.south east)} node[lab, at={(1725,-2105)}] {m\_sfn\\m\_sib1Length};
\draw[mem] ([yshift=-8]n_siconf.west) to[out=185,in=2] ([yshift=4]n_vecsimle.east) node[lab, at={(2215,-2150)}] {m\_siMessageList};
\draw[mem] ([yshift=2]n_vecsimle.west) -- ([yshift=-6]n_simle.east) node[lab, at={(1727,-2150)}] {elements};
\draw[mem] plot[smooth] coordinates {([xshift=-35]n_mapvecu16.south) (1863,-2477) (1687,-2524) ([xshift=-20]n_vecu16.south east)} node[lab, at={(1727,-2482)}] {elements};
\draw[mem] (n_vecrach.north west) to[out=170,in=-10] ([xshift=-5]n_rachle.south east) node[lab, at={(1727,-2425)}] {elements};
\draw[mem] plot[smooth] coordinates {(n_vechl.south west) (1723,-2939) ([xshift=-40]n_hlsel.north east)} node[lab, at={(1727,-2899)}] {elements};
\draw[mem] (n_vecdlinfo.south west) to[out=185,in=5] ([yshift=2]n_dlinfo.east) node[lab, at={(1727,-3053)}] {elements};
\draw[mem] ([yshift=5]n_sbmeas.west) to[out=178,in=-5] ([yshift=-9]n_vechl.east) node[lab, at={(2216,-2879)}] {m\_higherLayerSelected};
\draw[mem] ([yshift=-5]n_sbmeas.west) -- (n_uesel.east) node[lab, at={(1991,-2913)}] {m\_ueSelected};
\draw[mem] plot[smooth] coordinates {([xshift=-20]n_sbmeas.south) (2323,-2990) (2250,-3060) (2053,-3115) (1833,-3145) (1613,-3167) ([yshift=3]n_bwpart.east)} node[lab, at={(1727,-3134)}] {m\_bwPart};
\draw[mem] plot[smooth] coordinates {([xshift=-5]n_mapsb.south) (2858,-2250) (2763,-2397) (2653,-2410) (2600,-2435) (2585,-2500) (2582,-2600) (2575,-2700) (2530,-2800) ([xshift=18]n_sbmeas.north)} node[lab, at={(2677,-2391)}] {elements};

% ns3::FfMacCschedSapProvider::CschedCellConfigReqParameters
\draw[mem] plot[smooth] coordinates {([xshift=3]n_cellcfg.north west) (2690,-1613) (2617,-1511) (2543,-1452) (2470,-1415) (2323,-1379) (2301,-1320) (2309,-1247) (2290,-1160) (2163,-1079) (2010,-1053) (1857,-1007) (1700,-975) (1620,-940) (1595,-850) (1578,-760) ([xshift=-5]n_vecvsle.south east)} node[lab, at={(2216,-1067)}] {m\_vendorSpecificList};
\draw[mem] plot[smooth] coordinates {([xshift=5]n_cellcfg.north west) (2760,-1800) (2727,-1762) (2690,-1756) (2617,-1775) (2470,-1778) (2250,-1789) (1907,-1840) (1613,-1877) (1320,-1906) (1100,-1910) ([yshift=-3]n_u16.east)} node[lab, at={(1991,-1781)}] {m\_dlBandwidth\\m\_n1PucchAn\\m\_ulBandwidth};
\draw[mem] plot[smooth] coordinates {([xshift=-110]n_cellcfg.north) (2763,-1760) (2749,-1577) (2727,-1393) (2690,-1247) (2624,-1100) (2450,-1000) (2300,-926) (2010,-747) (1770,-599) (1577,-436) ([yshift=-6]n_bool.east)} node[lab, at={(2210,-840)}] {m\_srsMaxUpPts};
\draw[mem] plot[smooth] coordinates {([xshift=-135]n_cellcfg.north) (2763,-1760) (2756,-1687) (2719,-1657) (2653,-1641) (2580,-1637) ([yshift=-2]n_hop.north east)} node[lab, at={(2677,-1626)}] {m\_hoppingMode};
\draw[mem] plot[smooth] coordinates {([xshift=-128]n_cellcfg.north) (2760,-1760) (2749,-1723) (2690,-1709) (n_phich.east)} node[lab, at={(2678,-1696)}] {m\_phichResource};
\draw[mem] plot[smooth] coordinates {([xshift=-121]n_cellcfg.north) (2756,-1862) (2690,-1840) (2617,-1826) ([yshift=-8]n_normext.east)} node[lab, at={(2675,-1799)}] {m\_dlCyclicPrefixLength\\m\_phichDuration\\m\_ulCyclicPrefixLength};
\draw[mem] plot[smooth] coordinates {([yshift=6]n_cellcfg.west) (2690,-1888) (2617,-1877) ([yshift=-10]n_duplex.east)} node[lab, at={(2678,-1867)}] {m\_duplexMode};
\draw[mem] ([yshift=-5]n_cellcfg.west) -- ([yshift=-2]n_qam.east) node[lab, at={(2678,-1902)}] {m\_enable64Qam};
\draw[mem] plot[smooth] coordinates {([xshift=-50]n_cellcfg.south) (2617,-2053) ([xshift=25]n_siconf.north)} node[lab, at={(2678,-1979)}] {m\_siConfiguration};
\draw[mem] plot[smooth] coordinates {([xshift=-60]n_cellcfg.south) (2780,-2000) (2680,-2130) (2595,-2250) (2400,-2400) (2250,-2499) (2053,-2602) (1907,-2639) (1687,-2646) (1393,-2650) (1173,-2646) ([xshift=47]n_vecu8.south)} node[lab, at={(1989,-2549)}] {m\_mbsfnSubframeConfigRfOffset\\m\_mbsfnSubframeConfigRfPeriod\\m\_mbsfnSubframeConfigSfAllocation};
\draw[mem] plot[smooth] coordinates {([xshift=-142]n_cellcfg.south) (2756,-2100) (2758,-2250) (2763,-2507) (2705,-2727) (2543,-2983) (2250,-3200) (2053,-3291) (1833,-3350) (1540,-3350) (1100,-3332) (880,-3313) (733,-3277) (660,-3203) (623,-3130) ([xshift=-3]n_u8.south)} node[lab, at={(1726,-3259)}] {m\_antennaPortsCount\\m\_deltaPucchShift\\m\_initialNrOfPdcchOfdmSymbols\\m\_macContentionResolutionTimer\\m\_maxHarqMsg3Tx\\m\_nSb\\m\_ncsAn\\m\_nrbCqi\\m\_prachConfiguration\\Index\\m\_prachFreqOffset\\...};
\end{scope}
\end{tikzpicture}
\end{document}
